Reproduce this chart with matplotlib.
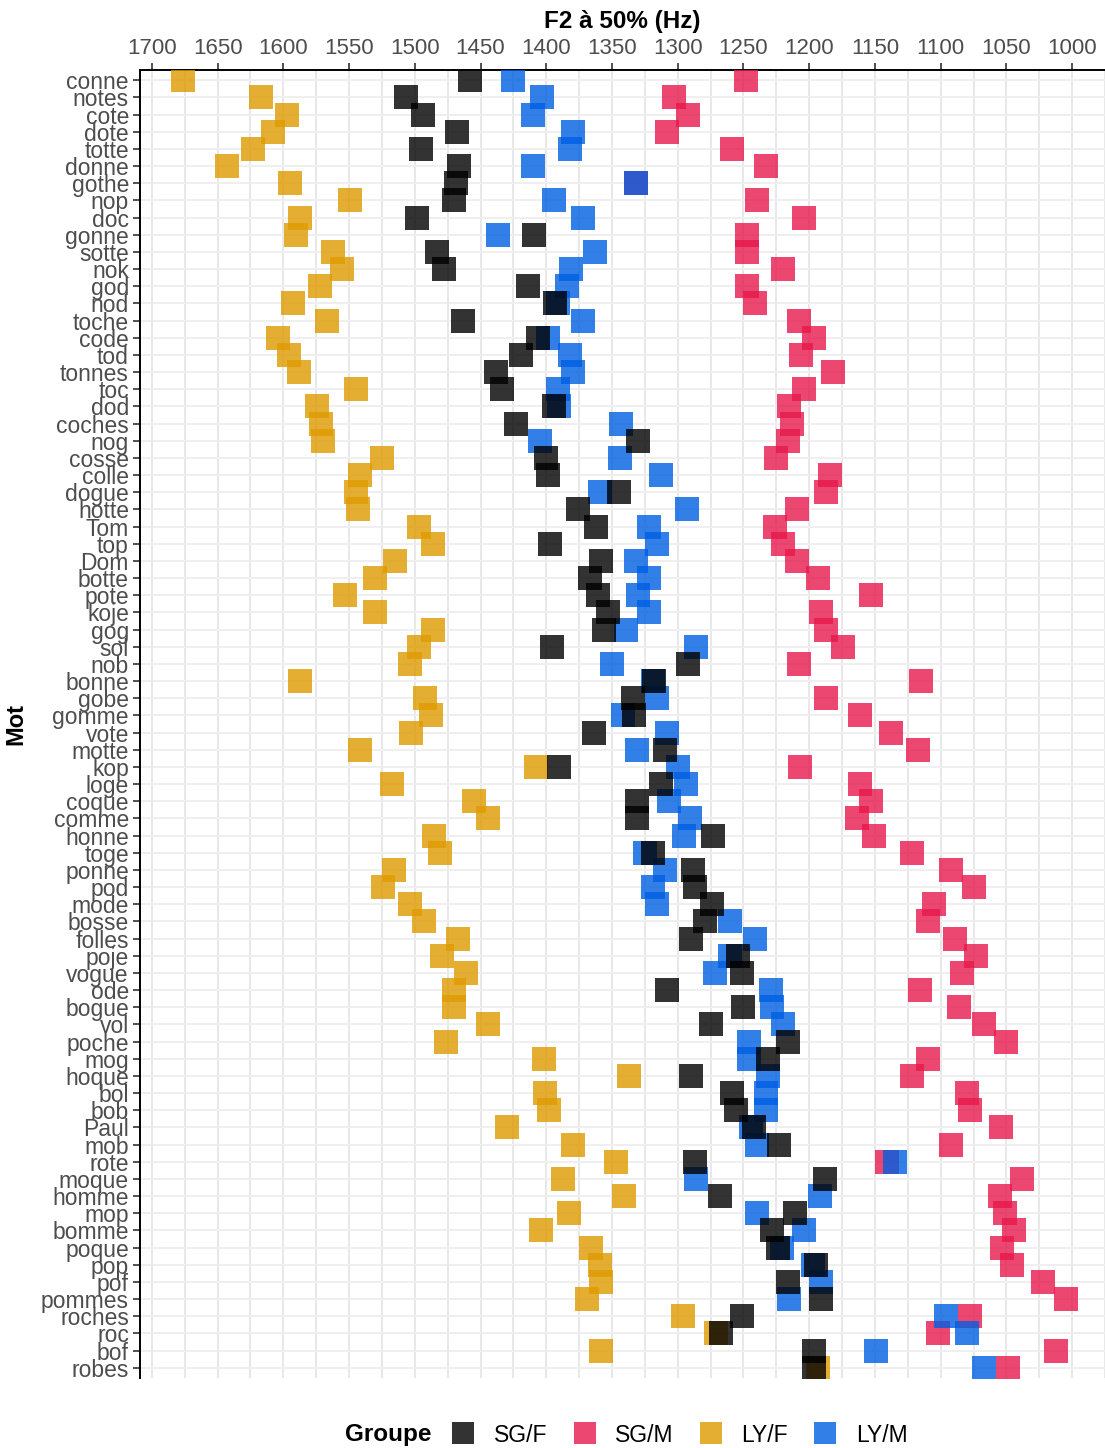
import numpy as np
import matplotlib.pyplot as plt
from matplotlib.lines import Line2D
from matplotlib.ticker import MultipleLocator

plt.rcParams['font.family'] = ['Liberation Sans', 'DejaVu Sans']

# d: words, top to bottom
mots = ['conne', 'notes', 'cote', 'dote', 'totte', 'donne', 'gothe', 'nop', 'doc', 'gonne',
        'sotte', 'nok', 'god', 'nod', 'toche', 'code', 'tod', 'tonnes', 'toc', 'dod',
        'coches', 'nog', 'cosse', 'colle', 'dogue', 'hotte', 'Tom', 'top', 'Dom', 'botte',
        'pote', 'koje', 'gog', 'sol', 'nob', 'bonne', 'gobe', 'gomme', 'vote', 'motte',
        'kop', 'loge', 'coque', 'comme', 'honne', 'toge', 'ponne', 'pod', 'mode', 'bosse',
        'folles', 'poje', 'vogue', 'ode', 'bogue', 'vol', 'poche', 'mog', 'hoque', 'bol',
        'bob', 'Paul', 'mob', 'rote', 'moque', 'homme', 'mop', 'bomme', 'poque', 'pop',
        'pof', 'pommes', 'roches', 'roc', 'bof', 'robes']

# F2 at 50% (Hz) per group
sg_f = [1458, 1507, 1494, 1468, 1495, 1466, 1469, 1470, 1498, 1409,
        1483, 1478, 1414, 1393, 1463, 1406, 1419, 1438, 1434, 1394,
        1423, 1330, 1400, 1399, 1345, 1376, 1362, 1397, 1358, 1367,
        1361, 1353, 1356, 1396, 1292, 1318, 1334, 1333, 1364, 1310,
        1390, 1313, 1331, 1331, 1273, 1319, 1288, 1287, 1274, 1279,
        1290, 1254, 1251, 1308, 1250, 1275, 1216, 1231, 1290, 1259,
        1256, 1242, 1223, 1287, 1188, 1268, 1211, 1228, 1224, 1195,
        1216, 1191, 1251, 1267, 1196, 1196]
sg_m = [1248, 1303, 1292, 1308, 1259, 1233, 1332, 1240, 1204, 1247,
        1247, 1220, 1247, 1241, 1208, 1196, 1206, 1182, 1204, 1215,
        1213, 1216, 1225, 1184, 1187, 1209, 1226, 1220, 1209, 1193,
        1153, 1191, 1187, 1174, 1208, 1115, 1187, 1161, 1138, 1117,
        1207, 1161, 1153, 1164, 1151, 1122, 1092, 1075, 1105, 1110,
        1089, 1073, 1084, 1116, 1086, 1067, 1050, 1110, 1122, 1080,
        1078, 1054, 1092, 1141, 1038, 1055, 1051, 1044, 1053, 1046,
        1022, 1005, 1078, 1102, 1012, 1049]
ly_f = [1676, 1617, 1597, 1608, 1623, 1643, 1595, 1549, 1587, 1590,
        1562, 1555, 1572, 1593, 1567, 1604, 1596, 1588, 1545, 1574,
        1571, 1570, 1525, 1542, 1545, 1543, 1497, 1486, 1515, 1530,
        1553, 1530, 1486, 1497, 1504, 1587, 1492, 1488, 1503, 1542,
        1408, 1517, 1455, 1444, 1485, 1481, 1516, 1524, 1504, 1493,
        1467, 1479, 1461, 1470, 1470, 1444, 1476, 1402, 1337, 1401,
        1398, 1430, 1380, 1347, 1387, 1341, 1383, 1404, 1366, 1359,
        1358, 1369, 1296, 1271, 1358, 1193]
ly_m = [1425, 1403, 1410, 1380, 1382, 1410, 1332, 1394, 1372, 1437,
        1363, 1381, 1384, 1391, 1372, 1399, 1382, 1380, 1391, 1390,
        1343, 1405, 1344, 1313, 1359, 1293, 1322, 1316, 1332, 1322,
        1330, 1322, 1339, 1286, 1350, 1319, 1316, 1342, 1308, 1331,
        1300, 1294, 1307, 1291, 1295, 1325, 1310, 1319, 1316, 1260,
        1241, 1260, 1272, 1229, 1228, 1220, 1246, 1246, 1231, 1233,
        1233, 1244, 1240, 1135, 1286, 1192, 1240, 1204, 1221, 1197,
        1191, 1215, 1096, 1080, 1149, 1067]

groupes = ['SG/F', 'SG/M', 'LY/F', 'LY/M']
couleurs = {'SG/F': '#000000', 'SG/M': '#E6194C', 'LY/F': '#DE9A00', 'LY/M': '#005FE3'}
valeurs = {'SG/F': sg_f, 'SG/M': sg_m, 'LY/F': ly_f, 'LY/M': ly_m}

fig = plt.figure(figsize=(11.05, 14.48), dpi=100)
ax = fig.add_axes([0.1267, 0.0483, 0.8733, 0.9034])

y = np.arange(len(mots))
# draw order: black mostly lands on top of blue in the original
for g in ['LY/F', 'SG/M', 'LY/M', 'SG/F']:
	ax.scatter(valeurs[g], y, marker='s', s=275, color=couleurs[g], alpha=0.8,
	           linewidths=0, zorder=3)

ax.set_xlim(1709, 975)
ax.set_ylim(len(mots) - 0.4, -0.6)
ax.xaxis.tick_top()
ax.xaxis.set_label_position('top')
ax.xaxis.set_major_locator(MultipleLocator(50))
ax.xaxis.set_minor_locator(MultipleLocator(25))
ax.set_yticks(y)
ax.set_yticklabels(mots)

ax.grid(True, which='major', axis='x', color='#E8E8E8', linewidth=1.4, zorder=0)
ax.grid(True, which='minor', axis='x', color='#E8E8E8', linewidth=1.4, zorder=0)
ax.grid(True, which='major', axis='y', color='#EFEFEF', linewidth=1.4, zorder=0)
ax.set_axisbelow(True)

for s in ['right', 'bottom']:
	ax.spines[s].set_visible(False)
for s in ['top', 'left']:
	ax.spines[s].set_linewidth(1.4)
	ax.spines[s].set_color('black')

ax.tick_params(axis='x', which='major', length=5, width=1.2, pad=3,
               labelsize=16, labelcolor='#4D4D4D', color='#333333')
ax.tick_params(axis='x', which='minor', length=0)
ax.tick_params(axis='y', length=5, width=1.2, pad=3,
               labelsize=16.5, labelcolor='#4D4D4D', color='#333333')

ax.set_xlabel('F2 à 50% (Hz)', fontsize=17.5, fontweight='bold', labelpad=7)
ax.set_ylabel('Mot', fontsize=17, fontweight='bold', labelpad=10)

# legend at the bottom
handles = [Line2D([], [], marker='s', linestyle='none', markersize=16.5,
                  markerfacecolor=couleurs[g], markeredgewidth=0, alpha=0.8)
           for g in groupes]
fig.text(0.312, 1 - 1435 / 1448, 'Groupe', fontsize=17.5, fontweight='bold',
         ha='left', va='center')
fig.legend(handles, groupes, loc='center left', bbox_to_anchor=(0.409, 1 - 1435 / 1448),
           ncol=4, frameon=False, fontsize=16.5, handlelength=1.0,
           handletextpad=0.85, columnspacing=1.1, borderpad=0, borderaxespad=0)

fig.savefig('out.png', dpi=100)
